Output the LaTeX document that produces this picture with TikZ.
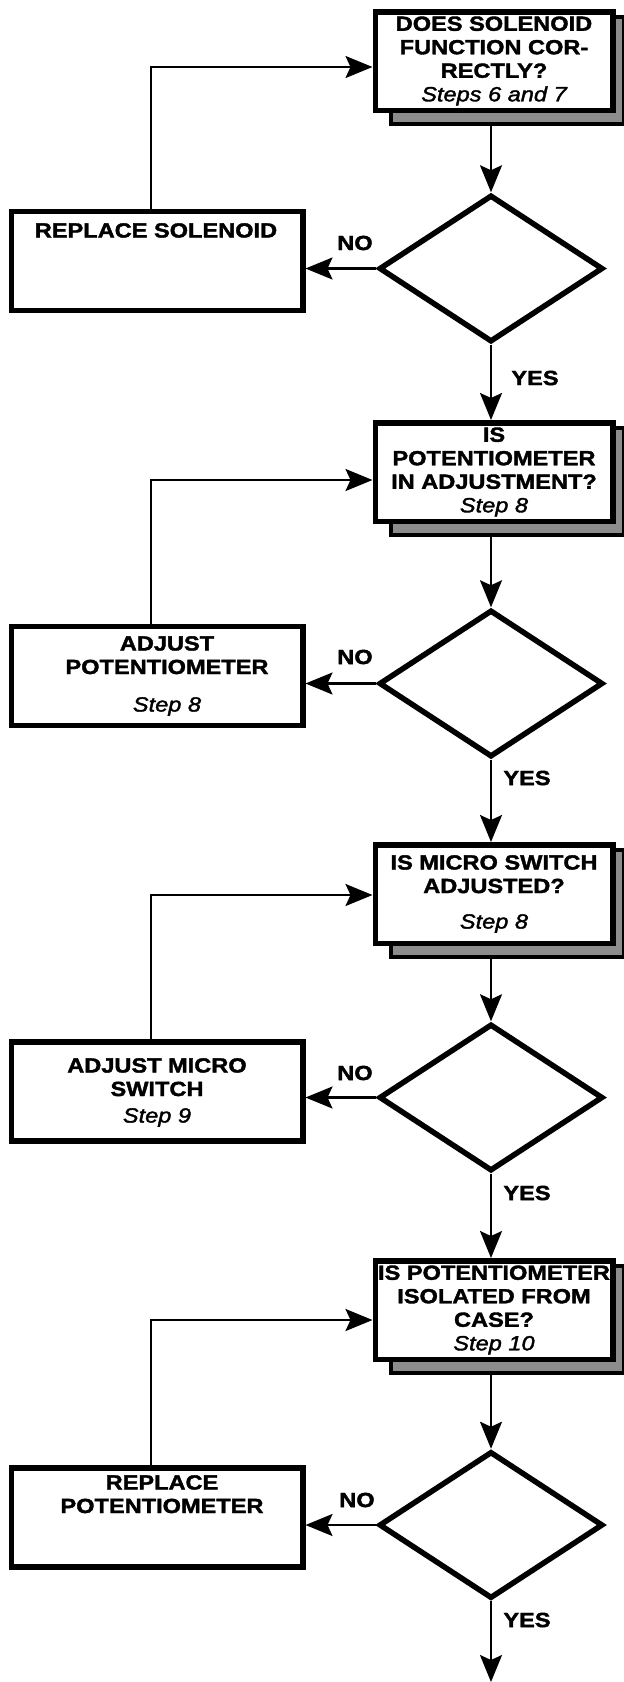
\documentclass[tikz,border=0pt]{standalone}
\usepackage{fontspec}
\setmainfont{Liberation Sans}[FakeStretch=1.15,FakeBold=1.8]
\usetikzlibrary{shapes.geometric,arrows.meta,calc,backgrounds}
\begin{document}
\begin{tikzpicture}[x=1pt,y=-1pt,
  every node/.style={font=\fontsize{20.5}{23.5}\selectfont\bfseries},
  qbox/.style={draw, line width=5.5pt, fill=white, minimum width=237.5pt, minimum height=98.5pt, inner sep=0pt, align=center},
  abox/.style={draw, line width=5.5pt, fill=white, minimum width=291.5pt, minimum height=99pt, inner sep=0pt},
  dia/.style={draw, diamond, line width=5.5pt, minimum width=224pt, minimum height=147pt, inner sep=0pt},
  shadowbox/.style={draw, line width=4pt, fill=black!45},
  conn/.style={line width=2.3pt, -{Stealth[length=27pt,width=22pt,inset=5pt]}},
  txt/.style={align=center, inner sep=0pt, anchor=north},
  lab/.style={inner sep=0pt}
]
\useasboundingbox (0,0) rectangle (624,1682);

% question boxes
\node[qbox] (b1) at (494,61) {DOES SOLENOID\\FUNCTION COR-\\RECTLY?\\{\mdseries\itshape Steps 6 and 7}};
\node[qbox] (b2) at (494,472) {IS\\POTENTIOMETER\\IN ADJUSTMENT?\\{\mdseries\itshape Step 8}};
\node[qbox] (b3) at (494,894) {IS MICRO SWITCH\\ADJUSTED?\\[12pt]{\mdseries\itshape Step 8}};
\node[qbox] (b4) at (494,1310) {IS POTENTIOMETER\\ISOLATED FROM\\CASE?\\{\mdseries\itshape Step 10}};

% shadows
\begin{scope}[on background layer]
\foreach \b in {b1,b2,b3,b4}{
  \path[shadowbox] ($(\b.south west)+(18,11)$) rectangle ($(\b.north east)+(8,8)$);
}
\end{scope}

% decisions
\node[dia] (d1) at (491,268.5) {};
\node[dia] (d2) at (491,683.5) {};
\node[dia] (d3) at (491,1097.5) {};
\node[dia] (d4) at (491,1525) {};

% action boxes
\node[abox] (l1) at (157,261) {};
\node[abox] (l2) at (157,676) {};
\node[abox] (l3) at (157,1091.5) {};
\node[abox] (l4) at (157,1517.5) {};

\node[txt] (t1) at (156,223) {REPLACE SOLENOID};
\node[txt] (t2) at (167,636) {ADJUST\\POTENTIOMETER\\[14pt]{\mdseries\itshape Step 8}};
\node[txt] (t3) at (157,1058) {ADJUST MICRO\\SWITCH\\[3pt]{\mdseries\itshape Step 9}};
\node[txt] (t4) at (162,1475) {REPLACE\\POTENTIOMETER};

% loop corners and end
\coordinate (c1) at (151,67);
\coordinate (c2) at (151,480);
\coordinate (c3) at (151,895);
\coordinate (c4) at (151,1320);
\coordinate (end) at (491,1682);

% connectors
\foreach \i/\j in {1/2,2/3,3/4}{
  \draw[conn] (d\i.south) -- (d\i.south |- b\j.north);
}
\foreach \i in {1,2,3,4}{
  \draw[conn] ($(b\i.south -| d\i.north)+(0,13)$) -- (d\i.north);
  \draw[conn] (d\i.west) -- (d\i.west -| l\i.east);
  \draw[conn] (l\i.north -| c\i) -- (c\i) -- (c\i -| b\i.west);
}
\draw[conn] (d4.south) -- (end);

% labels
\node[lab] (no1) at (355,243) {NO};
\node[lab] (no2) at (355,657) {NO};
\node[lab] (no3) at (355,1073) {NO};
\node[lab] (no4) at (357,1500) {NO};
\node[lab] (yes1) at (535,378) {YES};
\node[lab] (yes2) at (527,778) {YES};
\node[lab] (yes3) at (527,1193) {YES};
\node[lab] (yes4) at (527,1620) {YES};
\end{tikzpicture}
\end{document}
